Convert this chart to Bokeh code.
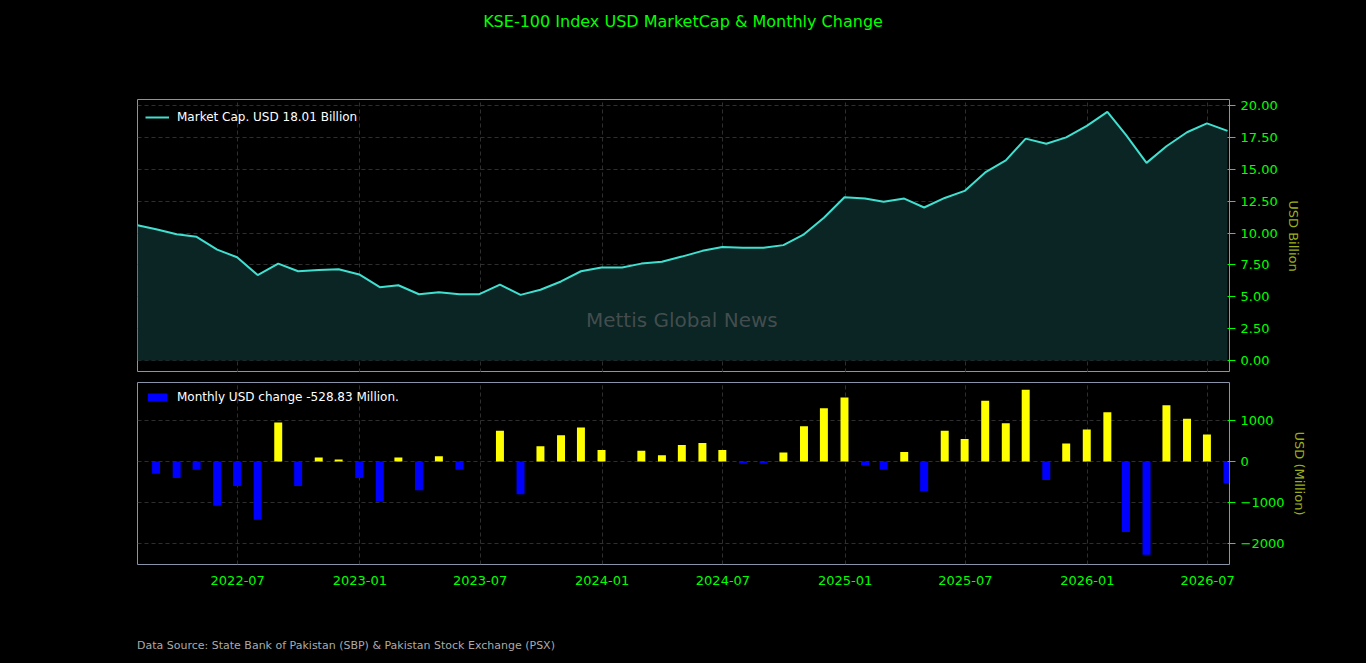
import pandas as pd
from bokeh.plotting import figure
from bokeh.layouts import column
from bokeh.models import (ColumnDataSource, Legend, LegendItem, Label, Div,
                          DatetimeTickFormatter, MonthsTicker, NumeralTickFormatter, Range1d)
from bokeh.embed import file_html
from bokeh.resources import INLINE

months = pd.date_range("2022-01-31", periods=55, freq="ME")
market_cap = [10.6, 10.3, 9.9, 9.7, 8.7, 8.1, 6.7, 7.6, 7.0, 7.1, 7.15, 6.75,
              5.75, 5.9, 5.2, 5.35, 5.2, 5.2, 5.95, 5.15, 5.55, 6.2, 7.0, 7.3,
              7.3, 7.6, 7.75, 8.15, 8.6, 8.9, 8.85, 8.85, 9.05, 9.9, 11.2, 12.8,
              12.7, 12.45, 12.7, 12.0, 12.75, 13.3, 14.75, 15.7, 17.4, 17.0, 17.5, 18.4,
              19.5, 17.7, 15.5, 16.8, 17.9, 18.6, 18.01]
monthly_change = [-300, -400, -200, -1080, -600, -1420, 950, -600, 100, 50, -400,
                  -980, 100, -700, 130, -200, 0, 750, -800, 370, 640, 830, 280,
                  0, 260, 150, 400, 450, 280, -50, -50, 220, 860, 1300, 1560,
                  -100, -200, 230, -720, 750, 550, 1480, 930, 1750, -450, 440, 780,
                  1200, -1720, -2270, 1370, 1040, 660, -528.83]

FONT = "DejaVu Sans"
GREEN = "#00ff00"
AXLAB = "#9aae1c"

top_src = ColumnDataSource(dict(x=months, y=market_cap))
bar_src = ColumnDataSource(dict(x=months[1:], y=monthly_change,
                                c=["#ffff00" if v >= 0 else "#0000ff" for v in monthly_change]))

xr = Range1d(months[0], months[-1] + pd.Timedelta(days=3))

def style(p):
    p.background_fill_color = "black"
    p.border_fill_color = "black"
    p.outline_line_color = "#8a94a8"
    p.grid.grid_line_color = "#3a3a3a"
    p.grid.grid_line_dash = "4 3"
    p.grid.grid_line_width = 0.8
    for ax in p.axis:
        ax.major_label_text_color = GREEN
        ax.major_label_text_font = FONT
        ax.major_label_text_font_size = "13px"
        ax.axis_line_color = None
        ax.major_tick_line_color = GREEN
        ax.minor_tick_line_color = None
        ax.axis_label_text_color = AXLAB
        ax.axis_label_text_font = FONT
        ax.axis_label_text_font_size = "13px"
        ax.axis_label_text_font_style = "normal"

title = Div(text="KSE-100 Index USD MarketCap &amp; Monthly Change", width=1350, height=30,
            margin=(0, 0, 0, 0),
            styles={"color": GREEN, "font-family": FONT, "font-size": "16px",
                    "text-align": "center", "width": "1350px", "line-height": "28px",
                    "background-color": "black"})

top = figure(width=1350, height=334, x_axis_type="datetime", x_range=xr,
             y_range=Range1d(-0.94, 20.47), y_axis_location="right",
             output_backend="svg", toolbar_location=None,
             min_border_left=129, min_border_right=129, min_border_top=61, min_border_bottom=0)
top.varea(x="x", y1=0, y2="y", source=top_src, fill_color="#0b2424")
ln = top.line(x="x", y="y", source=top_src, line_color="#40e0d0", line_width=2)
top.xaxis.visible = False
top.yaxis.axis_label = "USD Billion"
top.yaxis.formatter = NumeralTickFormatter(format="0.00")
top.yaxis.ticker = [0, 2.5, 5, 7.5, 10, 12.5, 15, 17.5, 20]
top.xaxis.ticker = MonthsTicker(months=[0, 6])
top.add_layout(Label(x=months[27], y=2.2, text="Mettis Global News", text_align="center",
                     text_color="#6a6a6a", text_alpha=0.6, text_font=FONT,
                     text_font_size="20px"))
style(top)
leg = Legend(items=[LegendItem(label="Market Cap. USD 18.01 Billion", renderers=[ln])],
             location="top_left", background_fill_alpha=0, border_line_alpha=0,
             label_text_color="white", label_text_font=FONT, label_text_font_size="12px",
             margin=2, padding=6, glyph_width=24, label_standoff=8)
top.add_layout(leg)

bot = figure(width=1350, height=264, x_axis_type="datetime", x_range=xr,
             y_range=Range1d(-2510, 1925), y_axis_location="right",
             output_backend="svg", toolbar_location=None,
             min_border_left=129, min_border_right=129, min_border_top=10, min_border_bottom=72)
bars = bot.vbar(x="x", top="y", bottom=0, width=12 * 86400000, source=bar_src,
                fill_color="c", line_color=None)
bot.yaxis.axis_label = "USD (Million)"
bot.yaxis.ticker = [-2000, -1000, 0, 1000]
bot.xaxis.ticker = MonthsTicker(months=[0, 6])
bot.xaxis.formatter = DatetimeTickFormatter(months="%Y-%m", days="%Y-%m")
style(bot)
bot.xaxis.major_tick_line_color = None
bleg = Legend(items=[LegendItem(label="Monthly USD change -528.83 Million.", renderers=[bars], index=0)],
              location="top_left", background_fill_alpha=0, border_line_alpha=0,
              label_text_color="white", label_text_font=FONT, label_text_font_size="12px",
              margin=2, padding=6, glyph_height=10, glyph_width=24, label_standoff=8)
bot.add_layout(bleg)

source = Div(text="Data Source: State Bank of Pakistan (SBP) &amp; Pakistan Stock Exchange (PSX)",
             width=1350, height=20, margin=(0, 0, 0, 0),
             styles={"color": "#aaaaaa", "font-family": FONT, "font-size": "11px",
                     "padding-left": "129px", "line-height": "20px", "width": "1350px",
                     "background-color": "black"})

p = column(title, top, bot, source, spacing=0, styles={"background-color": "black"})
html = file_html(p, INLINE).replace("<body>", '<body style="background:black;margin:8px">')
open("out.html", "w").write(html)
